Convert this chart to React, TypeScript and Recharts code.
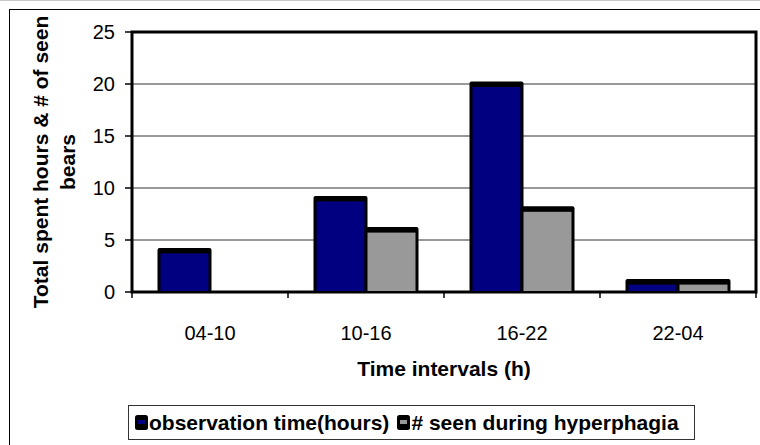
import React from 'react';
import { BarChart, Bar, XAxis, YAxis, CartesianGrid, Legend, ReferenceArea } from 'recharts';

const intervals = ['04-10', '10-16', '16-22', '22-04'];
const observationHours = [4, 9, 20, 1];
const seenDuringHyperphagia = [0, 6, 8, 1];
const yTicks = [0, 5, 10, 15, 20, 25];
const seriesNames = ['observation time(hours)', '# seen during hyperphagia'];
const seriesColors = ['#000080', '#999999'];
const xTitle = 'Time intervals (h)';
const yTitleLines = ['Total spent hours & # of seen', 'bears'];

const data = intervals.map((interval, i) => ({
  interval,
  obs: observationHours[i],
  seen: seenDuringHyperphagia[i],
}));

const FONT = '"Liberation Sans", Arial, sans-serif';

// Bar with a dark outline that is heavier along its top edge
const ShadowBar = (props: any) => {
  const { x, y, width, height, fill } = props;
  if (!height || height <= 0) return <g />;
  return (
    <g>
      <rect x={x - 1.5} y={y - 2.5} width={width + 3} height={height + 2.5} rx={2} fill="#000" />
      <rect x={x + 1.5} y={y + 3} width={width - 3} height={Math.max(height - 3, 0)} fill={fill} />
    </g>
  );
};

// Category label centred in its band, tick marks on the band edges
const BandTick = (props: any) => {
  const { x, y, payload, width, visibleTicksCount, index } = props;
  const band = width / visibleTicksCount;
  const axisY = y - 34;
  const left = x - band / 2;
  const right = x + band / 2;
  return (
    <g>
      <line x1={left} y1={axisY} x2={left} y2={axisY + 6} stroke="#000" strokeWidth={1.5} />
      {index === visibleTicksCount - 1 && (
        <line x1={right} y1={axisY} x2={right} y2={axisY + 6} stroke="#000" strokeWidth={1.5} />
      )}
      <text x={x} y={y} dy="0.71em" textAnchor="middle" fontFamily={FONT} fontSize={20} fill="#000">
        {payload.value}
      </text>
    </g>
  );
};

const XTitle = (props: any) => {
  const { viewBox } = props;
  return (
    <text
      x={viewBox.x + viewBox.width / 2}
      y={viewBox.y + 84}
      textAnchor="middle"
      fontFamily={FONT}
      fontWeight="bold"
      fontSize={21}
      fill="#000"
    >
      {xTitle}
    </text>
  );
};

const YTitle = (props: any) => {
  const { viewBox } = props;
  const cy = viewBox.y + viewBox.height / 2;
  const xs = [viewBox.x + 39, viewBox.x + 66];
  return (
    <g>
      {yTitleLines.map((line, i) => (
        <text
          key={line}
          x={xs[i]}
          y={cy}
          transform={`rotate(-90 ${xs[i]} ${cy})`}
          textAnchor="middle"
          fontFamily={FONT}
          fontWeight="bold"
          fontSize={21}
          fill="#000"
        >
          {line}
        </text>
      ))}
    </g>
  );
};

const LegendBox = () => (
  <div
    style={{
      boxSizing: 'border-box',
      height: 35,
      width: 567,
      border: '1px solid #333',
      display: 'flex',
      alignItems: 'center',
      paddingLeft: 6,
      fontFamily: FONT,
      fontWeight: 'bold',
      fontSize: 21,
      color: '#000',
      whiteSpace: 'nowrap',
      background: '#fff',
    }}
  >
    {seriesNames.map((name, i) => (
      <span
        key={name}
        style={{ display: 'inline-flex', alignItems: 'center', marginRight: i === 0 ? 8 : 0 }}
      >
        <svg width={14} height={15} style={{ marginRight: 0, display: 'block' }}>
          <rect x={0} y={0} width={13} height={15} rx={2.5} fill="#000" />
          <rect x={3} y={5} width={7} height={4} fill={seriesColors[i]} />
        </svg>
        {name}
      </span>
    ))}
  </div>
);

export default function App() {
  return (
    <div
      style={{
        position: 'absolute',
        left: 0,
        top: 0,
        width: 760,
        height: 445,
        background: '#fff',
        borderTop: '1px solid #c8c8c8',
        boxSizing: 'border-box',
        overflow: 'hidden',
      }}
    >
      <div
        style={{
          position: 'absolute',
          left: 9,
          top: 8,
          width: 800,
          height: 500,
          borderLeft: '1px solid #000',
          borderTop: '1px solid #000',
        }}
      />
      <div style={{ position: 'absolute', left: 0, top: -1 }}>
        <BarChart
          width={760}
          height={445}
          data={data}
          margin={{ top: 32, right: 4, left: 9, bottom: 5 }}
          barCategoryGap={27}
          barGap={0}
        >
          <CartesianGrid vertical={false} stroke="#333" strokeWidth={1} />
          <XAxis
            dataKey="interval"
            height={113}
            tickSize={6}
            tickMargin={28}
            tickLine={false}
            axisLine={{ stroke: '#000', strokeWidth: 2 }}
            tick={<BandTick />}
            interval={0}
            label={<XTitle />}
          />
          <YAxis
            domain={[0, 25]}
            ticks={yTicks}
            width={123}
            tickSize={7}
            tickMargin={10}
            tickLine={{ stroke: '#000', strokeWidth: 1.5 }}
            axisLine={{ stroke: '#000', strokeWidth: 2 }}
            tick={{ fill: '#000', fontSize: 20, fontFamily: FONT }}
            allowDataOverflow
            label={<YTitle />}
          />
          <Legend
            verticalAlign="bottom"
            height={35}
            content={<LegendBox />}
            wrapperStyle={{ left: 128, width: 567, bottom: 5 }}
          />
          <Bar
            dataKey="obs"
            name={seriesNames[0]}
            fill={seriesColors[0]}
            shape={<ShadowBar />}
            isAnimationActive={false}
          />
          <Bar
            dataKey="seen"
            name={seriesNames[1]}
            fill={seriesColors[1]}
            shape={<ShadowBar />}
            isAnimationActive={false}
          />
          <ReferenceArea y1={0} y2={25} fill="none" stroke="#000" strokeWidth={3} ifOverflow="visible" />
        </BarChart>
      </div>
    </div>
  );
}
